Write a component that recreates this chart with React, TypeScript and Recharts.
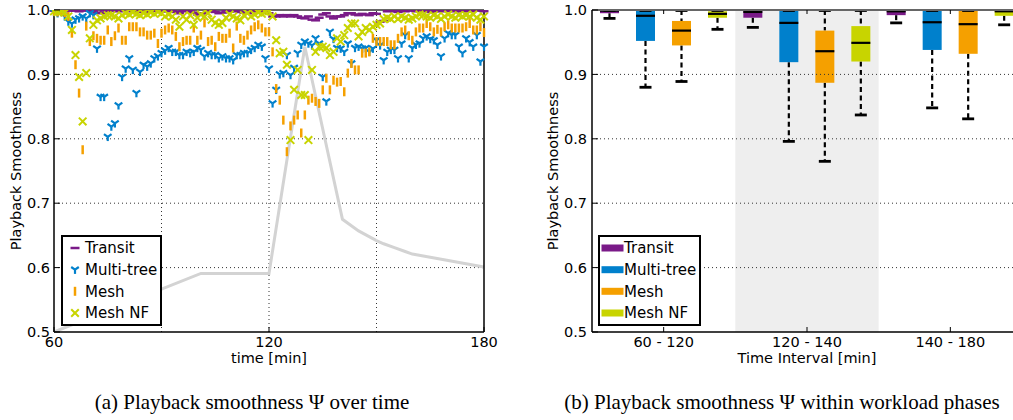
import React from 'react';
import {
  ComposedChart,
  Scatter,
  Line,
  Bar,
  XAxis,
  YAxis,
  ReferenceLine,
  ReferenceArea,
} from 'recharts';

// ---------- data: panel (a) ----------
const minutes = [
  60, 61, 62, 63, 64, 65, 66, 67, 68, 69,
  70, 71, 72, 73, 74, 75, 76, 77, 78, 79,
  80, 81, 82, 83, 84, 85, 86, 87, 88, 89,
  90, 91, 92, 93, 94, 95, 96, 97, 98, 99,
  100, 101, 102, 103, 104, 105, 106, 107, 108, 109,
  110, 111, 112, 113, 114, 115, 116, 117, 118, 119,
  120, 121, 122, 123, 124, 125, 126, 127, 128, 129,
  130, 131, 132, 133, 134, 135, 136, 137, 138, 139,
  140, 141, 142, 143, 144, 145, 146, 147, 148, 149,
  150, 151, 152, 153, 154, 155, 156, 157, 158, 159,
  160, 161, 162, 163, 164, 165, 166, 167, 168, 169,
  170, 171, 172, 173, 174, 175, 176, 177, 178, 179,
  180,
];

const transitValues = [
  0.999, 1.0, 0.999, 0.998, 0.999, 1.0, 0.999, 0.998, 0.999, 1.0,
  0.999, 0.998, 0.996, 0.995, 0.999, 0.998, 1.0, 0.999, 0.998, 0.999,
  1.0, 0.999, 0.998, 0.999, 0.998, 0.997, 0.996, 0.999, 1.0, 0.999,
  0.998, 0.999, 0.998, 0.999, 0.997, 0.995, 0.998, 0.999, 0.998, 0.996,
  0.993, 0.995, 0.995, 0.998, 0.999, 0.997, 0.995, 0.996, 0.999, 0.998,
  0.999, 0.998, 0.997, 0.996, 0.995, 0.998, 0.999, 0.998, 0.999, 0.998,
  0.995, 0.99, 0.99, 0.992, 0.99, 0.992, 0.99, 0.992, 0.99, 0.988,
  0.987, 0.99, 0.985, 0.984, 0.988, 0.993, 0.995, 0.99, 0.987, 0.99,
  0.99, 0.992, 0.995, 0.995, 0.993, 0.992, 0.994, 0.993, 0.992, 0.995,
  0.994, 0.982, 0.983, 0.998, 0.999, 0.998, 0.997, 0.999, 0.998, 0.999,
  1.0, 0.998, 0.999, 0.998, 0.999, 0.997, 0.998, 0.999, 0.998, 0.999,
  1.0, 0.999, 0.998, 0.999, 0.998, 0.999, 0.998, 0.999, 1.0, 0.999,
  0.998,
];

const multiTreeValues = [
  0.997, 0.995, 0.997, 0.99, 0.982, 0.979, 0.985, 0.987, 0.99, 0.987,
  0.995, 0.992, 0.94, 0.865, 0.865, 0.803, 0.819, 0.824, 0.852, 0.896,
  0.909, 0.925, 0.907, 0.871, 0.904, 0.915, 0.912, 0.917, 0.925, 0.928,
  0.933, 0.937, 0.941, 0.935, 0.935, 0.93, 0.93, 0.935, 0.933, 0.935,
  0.941, 0.938, 0.928, 0.933, 0.93, 0.93, 0.925, 0.928, 0.925, 0.925,
  0.922, 0.93, 0.93, 0.933, 0.933, 0.938, 0.941, 0.946, 0.943, 0.925,
  0.909, 0.855, 0.876, 0.9, 0.902, 0.93, 0.899, 0.91, 0.933, 0.946,
  0.951, 0.948, 0.945, 0.956, 0.948, 0.896, 0.858, 0.966, 0.955, 0.941,
  0.94, 0.935, 0.948, 0.917, 0.941, 0.943, 0.94, 0.941, 0.935, 0.94,
  0.953, 0.945, 0.922, 0.935, 0.938, 0.938, 0.925, 0.948, 0.961, 0.925,
  0.941, 0.946, 0.948, 0.956, 0.959, 0.955, 0.953, 0.946, 0.928, 0.956,
  0.964, 0.961, 0.961, 0.943, 0.933, 0.956, 0.95, 0.943, 0.961, 0.92,
  0.943,
];

const meshValues = [
  0.998, 0.997, 0.998, 0.996, 0.99, 0.964, 0.915, 0.871, 0.783, 0.975,
  0.951, 0.96, 0.956, 0.953, 0.953, 0.969, 0.951, 0.96, 0.972, 0.953,
  0.953, 0.974, 0.974, 0.974, 0.966, 0.966, 0.961, 0.961, 0.964, 0.948,
  0.964, 0.969, 0.972, 0.969, 0.959, 0.943, 0.951, 0.953, 0.953, 0.972,
  0.953, 0.961, 0.98, 0.951, 0.953, 0.943, 0.959, 0.956, 0.956, 0.964,
  0.941, 0.975, 0.956, 0.953, 0.961, 0.969, 0.974, 0.977, 0.972, 0.966,
  0.966, 0.935, 0.878, 0.86, 0.829, 0.78, 0.82, 0.829, 0.837, 0.809,
  0.837, 0.86, 0.863, 0.858, 0.855, 0.876, 0.894, 0.876, 0.891, 0.888,
  0.889, 0.873, 0.902, 0.917, 0.907, 0.907, 0.933, 0.933, 0.935, 0.956,
  0.951, 0.951, 0.951, 0.951, 0.946, 0.946, 0.956, 0.966, 0.969, 0.96,
  0.953, 0.966, 0.972, 0.972, 0.979, 0.974, 0.966, 0.97, 0.966, 0.974,
  0.977, 0.972, 0.972, 0.972, 0.972, 0.974, 0.979, 0.969, 0.969, 0.974,
  0.965,
];

const meshNfValues = [
  0.998, 0.997, 0.998, 0.996, 0.99, 0.969, 0.93, 0.896, 0.827, 0.902,
  0.956, 0.977, 0.984, 0.987, 0.99, 0.992, 0.992, 0.99, 0.987, 0.992,
  0.995, 0.993, 0.996, 0.994, 0.992, 0.995, 0.993, 0.996, 0.994, 0.997,
  0.995, 0.99, 0.993, 0.99, 0.985, 0.974, 0.99, 0.985, 0.992, 0.977,
  0.988, 0.993, 0.99, 0.995, 0.985, 0.98, 0.977, 0.98, 0.988, 0.993,
  0.99, 0.987, 0.984, 0.992, 0.995, 0.99, 0.993, 0.996, 0.994, 0.997,
  0.998, 0.99, 0.953, 0.933, 0.935, 0.915, 0.798, 0.876, 0.907, 0.868,
  0.868, 0.798, 0.907, 0.935, 0.943, 0.943, 0.941, 0.93, 0.935, 0.956,
  0.951, 0.961, 0.972, 0.979, 0.979, 0.959, 0.966, 0.972, 0.969, 0.974,
  0.977, 0.979, 0.986, 0.988, 0.986, 0.99, 0.986, 0.99, 0.988, 0.985,
  0.987, 0.99, 0.993, 0.992, 0.99, 0.988, 0.992, 0.99, 0.986, 0.99,
  0.993, 0.99, 0.988, 0.992, 0.99, 0.992, 0.99, 0.993, 0.988, 0.985,
  0.99,
];

// grey background curve (workload)
const loadTimes = [60, 101, 120, 130, 140.5, 145, 150, 152, 155, 158, 160, 165, 170, 175, 180];
const loadValues = [0.5, 0.591, 0.591, 0.943, 0.675, 0.657, 0.642, 0.637, 0.631, 0.625, 0.621, 0.616, 0.611, 0.606, 0.601];

const yTicks = [0.5, 0.6, 0.7, 0.8, 0.9, 1.0];
const yGridValues = [0.6, 0.7, 0.8, 0.9];
const xTicks = [60, 120, 180];
const xGridValues = [90, 120, 150];

// ---------- data: panel (b) [min, q1, median, q3, max] ----------
const phaseLabels = ['60 - 120', '120 - 140', '140 - 180'];
const transitBox = [
  [0.987, 0.995, 0.999, 1.0, 1.0],
  [0.973, 0.988, 0.997, 1.0, 1.0],
  [0.98, 0.992, 0.998, 1.0, 1.0],
];
const multiTreeBox = [
  [0.88, 0.952, 0.991, 1.0, 1.0],
  [0.796, 0.919, 0.98, 1.0, 1.0],
  [0.848, 0.938, 0.981, 1.0, 1.0],
];
const meshBox = [
  [0.889, 0.945, 0.968, 0.983, 1.0],
  [0.765, 0.887, 0.936, 0.968, 1.0],
  [0.831, 0.932, 0.978, 1.0, 1.0],
];
const meshNfBox = [
  [0.97, 0.988, 0.994, 0.998, 1.0],
  [0.837, 0.92, 0.949, 0.975, 1.0],
  [0.977, 0.991, 0.998, 1.0, 1.0],
];

// ---------- styling ----------
const FONT = '"DejaVu Sans", sans-serif';
const FS = 14.5;
const C_TRANSIT = '#7a1a88';
const C_MULTI = '#0080cc';
const C_MESH = '#f5a000';
const C_NF = '#c8d400';
const PLOT_TOP = 10;

const series = [
  { key: 'transit', name: 'Transit', color: C_TRANSIT, values: transitValues, box: transitBox, marker: 'hline' },
  { key: 'multi', name: 'Multi-tree', color: C_MULTI, values: multiTreeValues, box: multiTreeBox, marker: 'tri' },
  { key: 'mesh', name: 'Mesh', color: C_MESH, values: meshValues, box: meshBox, marker: 'vline' },
  { key: 'nf', name: 'Mesh NF', color: C_NF, values: meshNfValues, box: meshNfBox, marker: 'x' },
];

const loadData = loadTimes.map((t, i) => ({ t, v: loadValues[i] }));
const boxData = phaseLabels.map((cat, i) => {
  const row: any = { cat };
  series.forEach((s) => { row[s.key] = s.box[i]; });
  return row;
});

function Marker({ kind, cx, cy, color }: { kind: string; cx: number; cy: number; color: string }) {
  if (cx == null || cy == null || isNaN(cx) || isNaN(cy)) return <g />;
  if (kind === 'hline') {
    return <line x1={cx - 4.5} x2={cx + 4.5} y1={cy} y2={cy} stroke={color} strokeWidth={2.5} />;
  }
  if (kind === 'vline') {
    return <line x1={cx} x2={cx} y1={cy - 4.5} y2={cy + 4.5} stroke={color} strokeWidth={2.5} />;
  }
  if (kind === 'tri') {
    return (
      <g stroke={color} strokeWidth={2.2}>
        <line x1={cx} y1={cy} x2={cx} y2={cy + 4.2} />
        <line x1={cx} y1={cy} x2={cx - 3.8} y2={cy - 2.7} />
        <line x1={cx} y1={cy} x2={cx + 3.8} y2={cy - 2.7} />
      </g>
    );
  }
  return (
    <g stroke={color} strokeWidth={2}>
      <line x1={cx - 3.8} y1={cy - 3.8} x2={cx + 3.8} y2={cy + 3.8} />
      <line x1={cx - 3.8} y1={cy + 3.8} x2={cx + 3.8} y2={cy - 3.8} />
    </g>
  );
}

const makeXTick = (margin: number, top: boolean) => (props: any) => {
  const { x, y, payload } = props;
  const axisY = y - margin;
  return (
    <g stroke="none">
      <line x1={x} x2={x} y1={axisY} y2={axisY - 5} stroke="#000" strokeWidth={1} />
      {top && <line x1={x} x2={x} y1={PLOT_TOP} y2={PLOT_TOP + 4} stroke="#000" strokeWidth={1} />}
      <text x={x} y={y} dy="0.72em" textAnchor="middle" fontSize={FS} fontFamily={FONT} stroke="none" fill="#000">
        {payload.value}
      </text>
    </g>
  );
};

const makeYTick = (margin: number) => (props: any) => {
  const { x, y, payload } = props;
  const axisX = x + margin;
  return (
    <g stroke="none">
      <line x1={axisX} x2={axisX + 6} y1={y} y2={y} stroke="#000" strokeWidth={1} />
      <text x={x} y={y} dy="0.36em" textAnchor="end" fontSize={FS} fontFamily={FONT} stroke="none" fill="#000">
        {Number(payload.value).toFixed(1)}
      </text>
    </g>
  );
};

const xTitle = (text: string) => (props: any) => {
  const vb = props.viewBox || {};
  const cx = (vb.x ?? 0) + (vb.width ?? 0) / 2;
  const y = (vb.y ?? 0) + 31;
  return (
    <text x={cx} y={y} textAnchor="middle" fontSize={FS} fontFamily={FONT} stroke="none" fill="#000">
      {text}
    </text>
  );
};

const yTitle = (text: string, dx: number) => (props: any) => {
  const vb = props.viewBox || {};
  const x = (vb.x ?? 0) + dx;
  const cy = (vb.y ?? 0) + (vb.height ?? 0) / 2;
  return (
    <text
      x={x}
      y={cy}
      transform={`rotate(-90 ${x} ${cy})`}
      textAnchor="middle"
      dominantBaseline="central"
      fontSize={FS}
      fontFamily={FONT}
      stroke="none"
      fill="#000"
    >
      {text}
    </text>
  );
};

function BoxShape(props: any) {
  const { x, y, width, height, stats, color } = props;
  if (!stats || x == null || y == null) return <g />;
  const [mn, q1, med, q3, mx] = stats;
  const top = Math.min(y, y + height);
  const h = Math.abs(height);
  const k = h / (mx - mn);
  const py = (v: number) => top + (mx - v) * k;
  const cx = x + width / 2;
  return (
    <g>
      <line x1={cx} x2={cx} y1={py(q1)} y2={py(mn)} stroke="#000" strokeWidth={2.2} strokeDasharray="5 3.5" />
      {q3 < mx && (
        <line x1={cx} x2={cx} y1={py(mx)} y2={py(q3)} stroke="#000" strokeWidth={2.2} strokeDasharray="5 3.5" />
      )}
      <rect x={x} y={py(q3)} width={width} height={py(q1) - py(q3)} fill={color} />
      <line x1={x} x2={x + width} y1={py(med)} y2={py(med)} stroke="#000" strokeWidth={2.2} />
      <line x1={cx - 6} x2={cx + 6} y1={py(mn)} y2={py(mn)} stroke="#000" strokeWidth={2.8} />
      <line x1={cx - 6} x2={cx + 6} y1={py(mx) + 0.5} y2={py(mx) + 0.5} stroke="#000" strokeWidth={2.8} />
    </g>
  );
}

function LeftChart() {
  return (
    <ComposedChart width={500} height={380} data={loadData} margin={{ top: 10, right: 16, bottom: 8, left: 10 }}>
      <XAxis
        type="number"
        dataKey="t"
        scale="linear"
        domain={[60, 180]}
        ticks={xTicks}
        stroke="#000"
        axisLine={{ stroke: '#000', strokeWidth: 1.5 }}
        tickLine={false}
        tickSize={0}
        tickMargin={5}
        tick={makeXTick(5, false)}
        height={40}
        label={xTitle('time [min]')}
      />
      <YAxis
        type="number"
        dataKey="v"
        domain={[0.5, 1.0]}
        ticks={yTicks}
        interval={0}
        allowDataOverflow
        stroke="#000"
        axisLine={{ stroke: '#000', strokeWidth: 1.5 }}
        tickLine={false}
        tickSize={0}
        tickMargin={4}
        tick={makeYTick(4)}
        width={44}
        label={yTitle('Playback Smoothness', 5.5)}
      />
      {xGridValues.map((v) => (
        <ReferenceLine key={'gx' + v} x={v} stroke="#333" strokeWidth={1} strokeDasharray="1 3" />
      ))}
      {yGridValues.map((v) => (
        <ReferenceLine key={'gy' + v} y={v} stroke="#333" strokeWidth={1} strokeDasharray="1 3" />
      ))}
      <Line
        dataKey="v"
        type="linear"
        stroke="#d3d3d3"
        strokeWidth={3}
        dot={false}
        activeDot={false}
        isAnimationActive={false}
        legendType="none"
      />
      {series.map((s) => (
        <Scatter
          key={s.key}
          name={s.name}
          data={minutes.map((t, i) => ({ t, v: s.values[i] }))}
          dataKey="v"
          isAnimationActive={false}
          shape={(p: any) => <Marker kind={s.marker} cx={p.cx} cy={p.cy} color={s.color} />}
        />
      ))}
      <ReferenceLine y={1.0} stroke="#666" strokeWidth={2} />
      <ReferenceLine x={180} stroke="#000" strokeWidth={1.5} />
    </ComposedChart>
  );
}

function RightChart() {
  return (
    <ComposedChart
      width={520}
      height={380}
      data={boxData}
      margin={{ top: 10, right: 18, bottom: 8, left: 10 }}
      barGap={17}
    >
      <ReferenceArea x1="120 - 140" x2="120 - 140" fill="#eeeeee" fillOpacity={1} stroke="none" />
      {yGridValues.map((v) => (
        <ReferenceLine key={'rgy' + v} y={v} stroke="#333" strokeWidth={1} strokeDasharray="1 3" />
      ))}
      <XAxis
        dataKey="cat"
        type="category"
        interval={0}
        stroke="#000"
        axisLine={{ stroke: '#000', strokeWidth: 1.5 }}
        tickLine={false}
        tickSize={0}
        tickMargin={5}
        tick={makeXTick(5, true)}
        height={40}
        label={xTitle('Time Interval [min]')}
      />
      <YAxis
        type="number"
        domain={[0.5, 1.0]}
        ticks={yTicks}
        interval={0}
        allowDataOverflow
        stroke="#000"
        axisLine={{ stroke: '#000', strokeWidth: 1.5 }}
        tickLine={false}
        tickSize={0}
        tickMargin={5}
        tick={makeYTick(5)}
        width={62}
        label={yTitle('Playback Smoothness', 23)}
      />
      {series.map((s) => (
        <Bar
          key={s.key}
          name={s.name}
          dataKey={(d: any) => [d[s.key][0], d[s.key][4]]}
          barSize={19}
          fill={s.color}
          isAnimationActive={false}
          shape={(p: any) => <BoxShape {...p} stats={p.payload ? p.payload[s.key] : null} color={s.color} />}
        />
      ))}
      <ReferenceLine y={1.0} stroke="#666" strokeWidth={2} />
    </ComposedChart>
  );
}

function Overlay() {
  const rowY = [248, 269.7, 291.3, 313];
  const serif = '"Liberation Serif", "Times New Roman", serif';
  return (
    <svg width={1013} height={420} style={{ position: 'absolute', left: 0, top: 0, pointerEvents: 'none' }}>
      {/* legend (a) */}
      <rect x={62} y={236} width={99} height={89} fill="#fff" stroke="#000" strokeWidth={2} />
      {series.map((s, i) => (
        <g key={'la' + s.key}>
          <Marker kind={s.marker} cx={75} cy={rowY[i]} color={s.color} />
          <text x={85} y={rowY[i]} dy="0.36em" fontSize={15} fontFamily={FONT} fill="#000">
            {s.name}
          </text>
        </g>
      ))}
      {/* legend (b) */}
      <rect x={599} y={236} width={101} height={89} fill="#fff" stroke="#000" strokeWidth={2} />
      {series.map((s, i) => (
        <g key={'lb' + s.key}>
          <rect x={601.5} y={rowY[i] - 3.5} width={22} height={7} fill={s.color} />
          <text x={624} y={rowY[i]} dy="0.36em" fontSize={15} fontFamily={FONT} fill="#000">
            {s.name}
          </text>
        </g>
      ))}
      <text x={252} y={409} textAnchor="middle" fontSize={21} fontFamily={serif} fill="#000">
        (a) Playback smoothness Ψ over time
      </text>
      <text x={782} y={409} textAnchor="middle" fontSize={21} fontFamily={serif} fill="#000">
        (b) Playback smoothness Ψ within workload phases
      </text>
    </svg>
  );
}

export default function App() {
  return (
    <div
      style={{
        position: 'absolute',
        left: 0,
        top: 0,
        width: 1013,
        height: 420,
        overflow: 'hidden',
        background: '#fff',
        fontFamily: FONT,
      }}
    >
      <div style={{ position: 'absolute', left: 0, top: 0 }}>
        <LeftChart />
      </div>
      <div style={{ position: 'absolute', left: 520, top: 0 }}>
        <RightChart />
      </div>
      <Overlay />
    </div>
  );
}
